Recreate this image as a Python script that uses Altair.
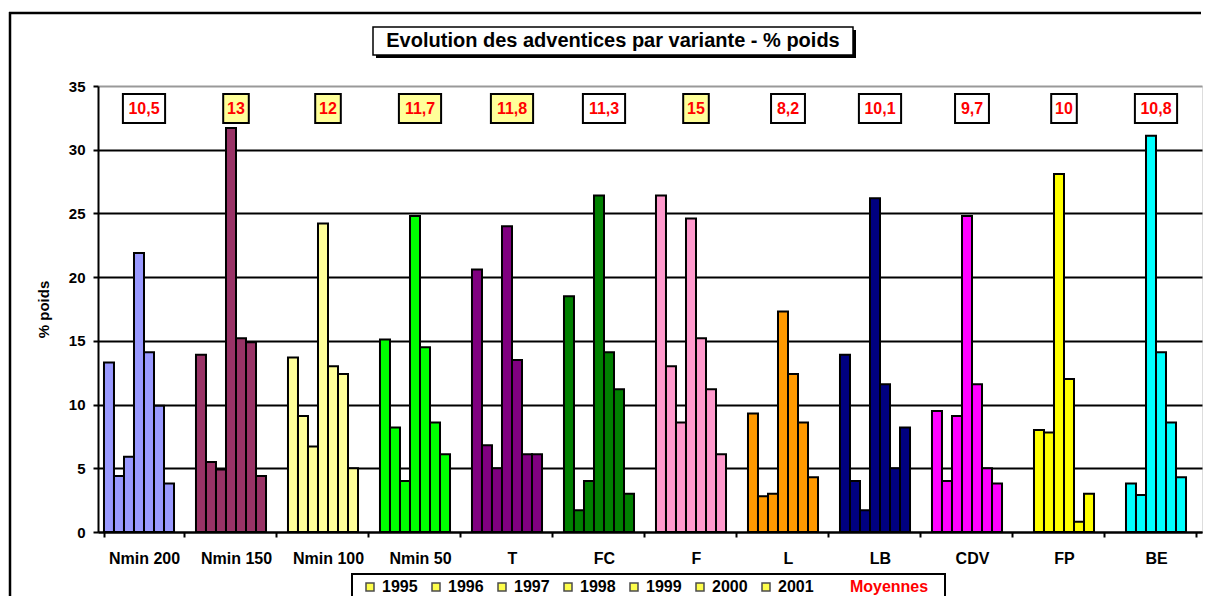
import altair as alt
import pandas as pd

variants = ["Nmin 200", "Nmin 150", "Nmin 100", "Nmin 50", "T", "FC", "F", "L", "LB", "CDV", "FP", "BE"]
years = ["1995", "1996", "1997", "1998", "1999", "2000", "2001"]
colors = ["#9999FF", "#993366", "#FFFF99", "#00FF00", "#800080", "#008000",
          "#FF99CC", "#FF9900", "#000080", "#FF00FF", "#FFFF00", "#00FFFF"]

nmin200 = [13.3, 4.4, 5.9, 21.9, 14.1, 9.9, 3.8]
nmin150 = [13.9, 5.5, 4.9, 31.7, 15.2, 14.9, 4.4]
nmin100 = [13.7, 9.1, 6.7, 24.2, 13.0, 12.4, 5.0]
nmin50 = [15.1, 8.2, 4.0, 24.8, 14.5, 8.6, 6.1]
t_vals = [20.6, 6.8, 5.0, 24.0, 13.5, 6.1, 6.1]
fc_vals = [18.5, 1.7, 4.0, 26.4, 14.1, 11.2, 3.0]
f_vals = [26.4, 13.0, 8.6, 24.6, 15.2, 11.2, 6.1]
l_vals = [9.3, 2.8, 3.0, 17.3, 12.4, 8.6, 4.3]
lb_vals = [13.9, 4.0, 1.7, 26.2, 11.6, 5.0, 8.2]
cdv_vals = [9.5, 4.0, 9.1, 24.8, 11.6, 5.0, 3.8]
fp_vals = [None, 8.0, 7.8, 28.1, 12.0, 0.8, 3.0]
be_vals = [None, 3.8, 2.9, 31.1, 14.1, 8.6, 4.3]

moyennes = [10.5, 13, 12, 11.7, 11.8, 11.3, 15, 8.2, 10.1, 9.7, 10, 10.8]

series = [nmin200, nmin150, nmin100, nmin50, t_vals, fc_vals, f_vals, l_vals,
          lb_vals, cdv_vals, fp_vals, be_vals]

rows = []
for v, vals in zip(variants, series):
    for y, val in zip(years, vals):
        if val is not None:
            rows.append({"variant": v, "year": y, "value": val})
df = pd.DataFrame(rows)

mdf = pd.DataFrame({"variant": variants, "mean": moyennes})

FONT = "Liberation Sans"
one = pd.DataFrame({"a": [0]})

x_enc = alt.X(
    "variant:N", sort=variants,
    scale=alt.Scale(domain=variants, paddingInner=0.13, paddingOuter=0.065),
    axis=alt.Axis(title=None, labelAngle=0, labelFontSize=16, labelFontWeight="bold",
                  labelColor="black", labelFont=FONT, tickBand="extent", tickSize=5,
                  tickColor="black", tickWidth=2, domainColor="black", domainWidth=2,
                  labelPadding=13, grid=False),
)
y_enc = alt.Y(
    "value:Q",
    scale=alt.Scale(domain=[0, 35], nice=False),
    axis=alt.Axis(title="% poids", titleFontSize=15, titleFontWeight="bold", titleFont=FONT,
                  titleColor="black", titlePadding=17,
                  values=[0, 5, 10, 15, 20, 25, 30, 35], labelFontSize=15,
                  labelFontWeight="bold", labelFont=FONT, labelColor="black",
                  tickSize=5, tickColor="black", tickWidth=2, domainColor="black",
                  domainWidth=2, labelPadding=8,
                  gridColor={"condition": {"test": "datum.value >= 35", "value": "#999999"},
                             "value": "black"},
                  gridWidth=2),
)
xoff = alt.XOffset("year:N", scale=alt.Scale(domain=years + ["Moyennes"], paddingInner=0, paddingOuter=0))

frame_top = alt.Chart(one).mark_rule(color="black", strokeWidth=2.5).encode(
    x=alt.value(-89), x2=alt.value(1103), y=alt.value(-73))
frame_left = alt.Chart(one).mark_rule(color="black", strokeWidth=2.5).encode(
    x=alt.value(-88), y=alt.value(-74), y2=alt.value(510))

title_shadow = alt.Chart(one).mark_rect(fill="black").encode(
    x=alt.value(278), x2=alt.value(758), y=alt.value(-56), y2=alt.value(-28))
title_box = alt.Chart(one).mark_rect(fill="white", stroke="black", strokeWidth=1.5).encode(
    x=alt.value(275), x2=alt.value(755), y=alt.value(-59), y2=alt.value(-31))
title_text = alt.Chart(one).mark_text(font=FONT, fontSize=20, fontWeight="bold", color="black").encode(
    x=alt.value(515), y=alt.value(-45), text=alt.value("Evolution des adventices par variante -  % poids"))

bars = alt.Chart(df).mark_bar(stroke="black", strokeWidth=2).encode(
    x=x_enc, xOffset=xoff, y=y_enc,
    fill=alt.Fill("variant:N", scale=alt.Scale(domain=variants, range=colors), legend=None),
)

legend_pts = alt.Chart(df).mark_point(shape="square", filled=True, fill="#FFFF00", stroke="black",
                                      strokeWidth=1.5, clip=True).encode(
    x=alt.X("variant:N", sort=variants), xOffset=xoff, y=alt.value(-5000),
    shape=alt.Shape("year:N", scale=alt.Scale(domain=years, range=["square"] * 7),
                    legend=alt.Legend(orient="none", legendX=264, legendY=493,
                                      direction="horizontal", columns=7, title=None,
                                      symbolSize=64, symbolStrokeWidth=1.5,
                                      labelFontSize=16, labelFontWeight="bold", labelFont=FONT,
                                      labelColor="black", columnPadding=10, labelOffset=4,
                                      padding=0)),
)

mean_boxes = alt.Chart(mdf).transform_calculate(
    bw="9 + 8.3 * length(replace(toString(datum.mean), '.', ','))"
).mark_bar(stroke="black", strokeWidth=2).encode(
    x=alt.X("variant:N", sort=variants),
    size=alt.Size("bw:Q", scale=None),
    y=alt.value(8), y2=alt.value(37),
    fill=alt.condition("datum.mean > 11.5", alt.value("#FFFF99"), alt.value("white")),
)
mean_text = alt.Chart(mdf).transform_calculate(
    lbl="replace(toString(datum.mean), '.', ',')"
).mark_text(font=FONT, fontSize=16, fontWeight="bold", color="red").encode(
    x=alt.X("variant:N", sort=variants), y=alt.value(23), text="lbl:N")

legend_box = alt.Chart(one).mark_rect(fill="white", stroke="black", strokeWidth=2).encode(
    x=alt.value(254), x2=alt.value(847), y=alt.value(488), y2=alt.value(514))
moy_text = alt.Chart(one).mark_text(font=FONT, fontSize=16, fontWeight="bold", color="red").encode(
    x=alt.value(791), y=alt.value(501), text=alt.value("Moyennes"))

chart = alt.layer(
    frame_top, frame_left, title_shadow, title_box, title_text, bars, mean_boxes, mean_text,
    legend_box, moy_text, legend_pts
).properties(
    width=1104, height=446,
    autosize=alt.AutoSizeParams(type="none"),
    padding={"left": 90, "top": 78, "right": 1, "bottom": 64},
).configure_view(stroke="#999999", strokeWidth=2).configure(font=FONT)

chart.save("out.html", embed_options={"renderer": "svg", "actions": False})
